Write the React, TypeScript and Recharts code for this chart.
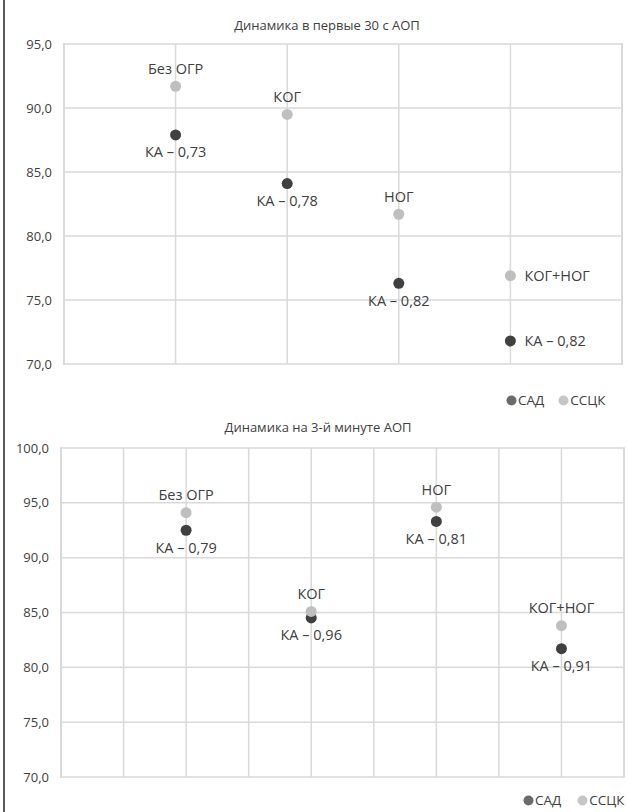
import React from 'react';
import { ScatterChart, Scatter, XAxis, YAxis, CartesianGrid, LabelList } from 'recharts';

// groups (same order in both charts)
const groups = ['Без ОГР', 'КОГ', 'НОГ', 'КОГ+НОГ'];

// chart 1: first 30 s
const first30X = [1, 2, 3, 4];
const first30Sad = [87.9, 84.1, 76.3, 71.8];
const first30Ssck = [91.7, 89.5, 81.7, 76.9];
const first30Ka = ['0,73', '0,78', '0,82', '0,82'];
const first30Ticks = [70, 75, 80, 85, 90, 95];
const first30XTicks = [0, 1, 2, 3, 4, 5];

// chart 2: 3rd minute
const min3X = [2, 4, 6, 8];
const min3Sad = [92.5, 84.5, 93.3, 81.7];
const min3Ssck = [94.1, 85.1, 94.6, 83.8];
const min3Ka = ['0,79', '0,96', '0,81', '0,91'];
const min3Ticks = [70, 75, 80, 85, 90, 95, 100];
const min3XTicks = [0, 1, 2, 3, 4, 5, 6, 7, 8, 9];

const seriesNames = ['САД', 'ССЦК'];

const FONT = '"Open Sans", sans-serif';
const TEXT = '#404040';
const SAD_COLOR = '#404040';
const SSCK_COLOR = '#bfbfbf';
const LEGEND_COLORS = ['#6b6b6b', '#c6c6c6'];
const GRID = '#d9d9d9';

const fmt = (v: number) => v.toFixed(1).replace('.', ',');

const center = (p: any) => ({
  cx: p.x + (p.width || 0) / 2,
  cy: p.y + (p.height || 0) / 2,
});

const dot = (color: string) => (p: any) => <circle cx={p.cx} cy={p.cy} r={5.5} fill={color} />;

const sideLabel = (rightIdx: number[], dy: number) => (p: any) => {
  const { cx, cy } = center(p);
  const right = rightIdx.includes(p.index);
  return (
    <text
      x={right ? cx + 14 : cx}
      y={right ? cy : cy + dy}
      textAnchor={right ? 'start' : 'middle'}
      dominantBaseline="central"
      fontSize={14.5}
      fill={TEXT}
      fontFamily={FONT}
    >
      {p.value}
    </text>
  );
};

function LegendBox({ left, top, gap }: { left: number; top: number; gap: number }) {
  return (
    <div style={{ position: 'absolute', left, top, display: 'flex', alignItems: 'center', fontFamily: FONT, fontSize: 13.5, color: TEXT }}>
      {seriesNames.map((n, i) => (
        <span key={n} style={{ display: 'flex', alignItems: 'center', marginRight: i === 0 ? gap : 0 }}>
          <svg width={11} height={11} style={{ marginRight: 1 }}>
            <circle cx={5.5} cy={5.5} r={5} fill={LEGEND_COLORS[i]} />
          </svg>
          {n}
        </span>
      ))}
    </div>
  );
}

// side edges of the plot box (left/right frame lines)
function Frame({ left, right, top, bottom }: { left: number; right: number; top: number; bottom: number }) {
  const edge = (x: number): React.CSSProperties => ({
    position: 'absolute', left: x - 1, top, width: 2, height: bottom - top, background: GRID, pointerEvents: 'none',
  });
  return (
    <>
      <div style={edge(left)} />
      <div style={edge(right)} />
    </>
  );
}

function DotChart(props: {
  width: number; height: number; margin: any; yWidth: number;
  xs: number[]; sad: number[]; ssck: number[]; ka: string[];
  yTicks: number[]; xTicks: number[];
  nameRight: number[]; kaRight: number[];
}) {
  const { xs, sad, ssck, ka, yTicks, xTicks } = props;
  const sadRows = xs.map((x, i) => ({ x, y: sad[i], label: 'КА – ' + ka[i] }));
  const ssckRows = xs.map((x, i) => ({ x, y: ssck[i], label: groups[i] }));
  const xMin = xTicks[0];
  const xMax = xTicks[xTicks.length - 1];
  const yMin = yTicks[0];
  const yMax = yTicks[yTicks.length - 1];
  return (
    <ScatterChart width={props.width} height={props.height} margin={props.margin}>
      <CartesianGrid stroke={GRID} strokeWidth={1.5} />
      <XAxis
        type="number"
        dataKey="x"
        domain={[xMin, xMax]}
        ticks={xTicks}
        interval={0}
        tick={{ fill: 'none', fontSize: 1 }}
        axisLine={false}
        tickLine={false}
        height={0}
      />
      <YAxis
        type="number"
        dataKey="y"
        domain={[yMin, yMax]}
        ticks={yTicks}
        interval={0}
        tickFormatter={fmt}
        axisLine={false}
        tickLine={false}
        tickMargin={6}
        width={props.yWidth}
        tick={{ fill: TEXT, fontSize: 13, fontFamily: FONT }}
      />
      <Scatter name="САД" data={sadRows} fill={SAD_COLOR} shape={dot(SAD_COLOR)} isAnimationActive={false}>
        <LabelList dataKey="label" content={sideLabel(props.kaRight, 17)} />
      </Scatter>
      <Scatter name="ССЦК" data={ssckRows} fill={SSCK_COLOR} shape={dot(SSCK_COLOR)} isAnimationActive={false}>
        <LabelList dataKey="label" content={sideLabel(props.nameRight, -18)} />
      </Scatter>
    </ScatterChart>
  );
}

export default function App() {
  const titleStyle = (cx: number, top: number): React.CSSProperties => ({
    position: 'absolute', left: cx - 200, width: 400, top, textAlign: 'center',
    fontFamily: FONT, fontSize: 13, color: TEXT, lineHeight: '16px',
  });
  return (
    <div style={{ position: 'absolute', left: 0, top: 0, width: 628, height: 812, background: '#fff' }}>
      <div style={{ position: 'absolute', left: 3, top: 0, width: 2, height: 812, background: '#595959' }} />

      <div style={{ position: 'absolute', left: 0, top: 0, width: 628, height: 410 }}>
        <DotChart
          width={628} height={410} margin={{ top: 44, right: 6, bottom: 46, left: 0 }} yWidth={64}
          xs={first30X} sad={first30Sad} ssck={first30Ssck} ka={first30Ka}
          yTicks={first30Ticks} xTicks={first30XTicks} nameRight={[3]} kaRight={[3]}
        />
        <Frame left={64} right={622} top={43} bottom={365} />
        <div style={titleStyle(327, 17)}>Динамика в первые 30 с АОП</div>
        <LegendBox left={506} top={391} gap={14} />
      </div>

      <div style={{ position: 'absolute', left: 0, top: 410, width: 628, height: 402 }}>
        <DotChart
          width={628} height={402} margin={{ top: 38, right: 4, bottom: 35, left: 0 }} yWidth={61}
          xs={min3X} sad={min3Sad} ssck={min3Ssck} ka={min3Ka}
          yTicks={min3Ticks} xTicks={min3XTicks} nameRight={[]} kaRight={[]}
        />
        <Frame left={61} right={624} top={37} bottom={368} />
        <div style={titleStyle(318, 9)}>Динамика на 3-й минуте АОП</div>
        <LegendBox left={523} top={381} gap={16} />
      </div>
    </div>
  );
}
